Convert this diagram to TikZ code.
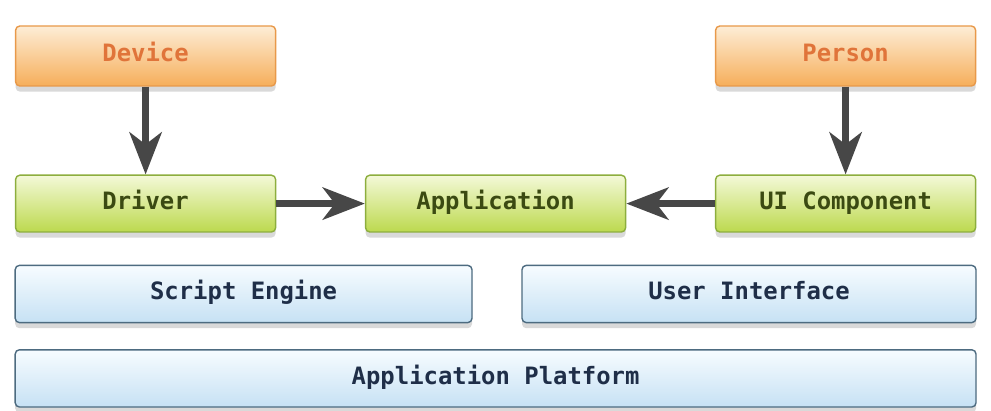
\documentclass[tikz,border=0pt]{standalone}
\usepackage{fontspec}
\setmonofont{DejaVu Sans Mono}
\usetikzlibrary{arrows.meta,shadows}

\definecolor{orangetop}{HTML}{FDEDD6}
\definecolor{orangebot}{HTML}{F6AE5A}
\definecolor{orangeline}{HTML}{E8994A}
\definecolor{orangetext}{HTML}{E0743A}
\definecolor{greentop}{HTML}{F4F9D8}
\definecolor{greenbot}{HTML}{BCD94E}
\definecolor{greenline}{HTML}{8DAE3E}
\definecolor{greentext}{HTML}{3B4A12}
\definecolor{bluetop}{HTML}{F7FCFF}
\definecolor{bluebot}{HTML}{C6E1F4}
\definecolor{blueline}{HTML}{4D6B80}
\definecolor{bluetext}{HTML}{1F2E48}
\definecolor{arrowgray}{HTML}{474747}

\begin{document}
\begin{tikzpicture}[
  box/.style={draw, rounded corners=3pt, line width=1pt, inner sep=0pt,
    text height=12pt, text depth=3.5pt,
    font=\ttfamily\bfseries\fontsize{17}{17}\selectfont,
    drop shadow={shadow xshift=0pt, shadow yshift=-4pt, opacity=0.3}},
  devbox/.style={box, minimum width=6.5cm, minimum height=1.5cm, draw=orangeline,
    top color=orangetop, bottom color=orangebot, text=orangetext},
  compbox/.style={box, minimum width=6.5cm, minimum height=1.42cm, draw=greenline,
    top color=greentop, bottom color=greenbot, text=greentext},
  layerbox/.style={box, minimum height=1.43cm, draw=blueline,
    top color=bluetop, bottom color=bluebot, text=bluetext},
  flow/.style={line width=5.5pt, draw=arrowgray,
    -{Stealth[length=1.05cm,width=0.8cm,inset=0.3cm]}}
]
\useasboundingbox (0,0) rectangle (24.775,10.25);

% outside world
\node[devbox] (device) at (3.64,8.85) {Device};
\node[devbox] (person) at (21.14,8.85) {Person};

% components
\node[compbox] (driver) at (3.64,5.16) {Driver};
\node[compbox] (app) at (12.39,5.16) {Application};
\node[compbox] (uicomp) at (21.14,5.16) {UI Component};

% layers
\node[layerbox, minimum width=11.42cm] (script) at (6.09,2.9) {Script Engine};
\node[layerbox, minimum width=11.35cm] (userif) at (18.725,2.9) {User Interface};
\node[layerbox, minimum width=24.02cm] (platform) at (12.39,0.79) {Application Platform};

\draw[flow] (device) -- (driver);
\draw[flow] (person) -- (uicomp);
\draw[flow] (driver) -- (app);
\draw[flow] (uicomp) -- (app);

\end{tikzpicture}
\end{document}
